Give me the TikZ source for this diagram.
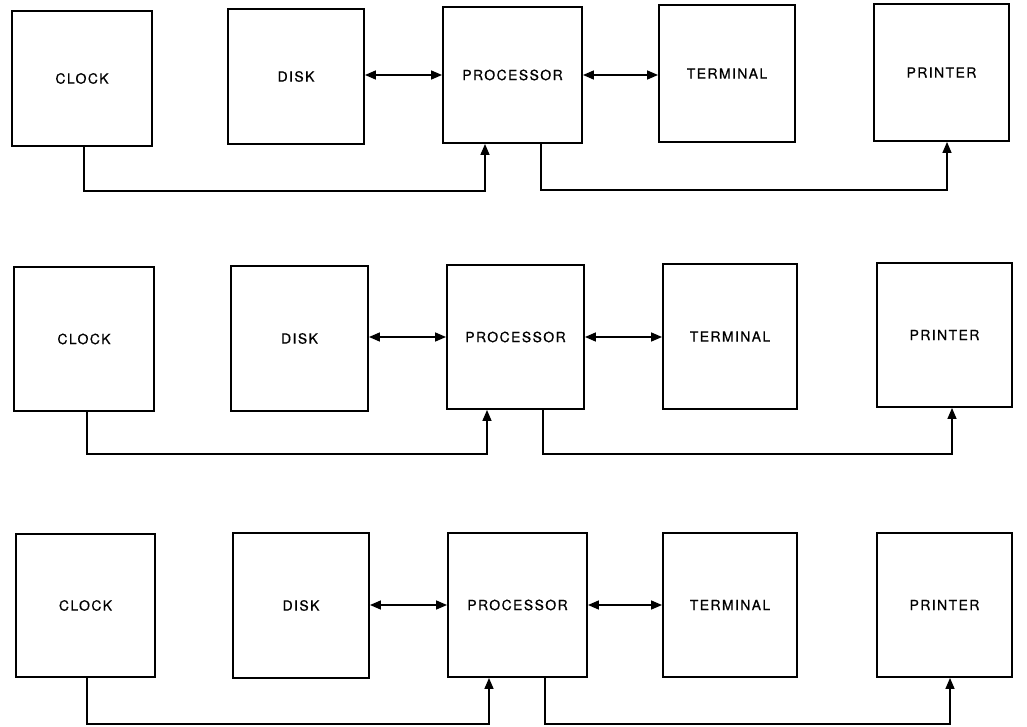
\documentclass[tikz,border=0pt]{standalone}
\usepackage{fontspec}
\usetikzlibrary{arrows.meta}
\newfontfamily\labfont[LetterSpace=10,FakeBold=0.6]{TeX Gyre Heros}
\begin{document}
\begin{tikzpicture}[x=1pt,y=-1pt,
  box/.style={draw,line width=1.9pt,inner sep=0pt,rectangle,
    font=\labfont\fontsize{14}{16}\selectfont},
  link/.style={line width=1.5pt},
  biarrow/.style={link,{Triangle[length=11pt,width=9pt]}-{Triangle[length=11pt,width=9pt]}},
  arr/.style={link,-{Triangle[length=11pt,width=9pt]}}]
\useasboundingbox (0,0) rectangle (1027,727);
% Row 1
\node[box,minimum width=140pt,minimum height=135pt] (c1) at (82,78.5) {CLOCK};
\node[box,minimum width=136pt,minimum height=135pt] (d1) at (296,76.5) {DISK};
\node[box,minimum width=139pt,minimum height=136pt] (p1) at (512.5,75) {PROCESSOR};
\node[box,minimum width=136pt,minimum height=137pt] (t1) at (727,73.5) {TERMINAL};
\node[box,minimum width=135pt,minimum height=137pt] (pr1) at (941.5,72.5) {PRINTER};
\draw[biarrow] (p1.west -| d1.east) -- (p1.west);
\draw[biarrow] (p1.east) -- (p1.east -| t1.west);
\draw[arr] ([xshift=2pt]c1.south) -- ++(0,44) -| ([xshift=-27.5pt]p1.south);
\draw[arr] ([xshift=28.5pt]p1.south) -- ++(0,46) -| ([xshift=5.5pt]pr1.south);
% Row 2
\node[box,minimum width=140pt,minimum height=144pt] (c2) at (84,339) {CLOCK};
\node[box,minimum width=137pt,minimum height=145pt] (d2) at (299.5,338.5) {DISK};
\node[box,minimum width=137pt,minimum height=144pt] (p2) at (515.5,337) {PROCESSOR};
\node[box,minimum width=134pt,minimum height=145pt] (t2) at (730,336.5) {TERMINAL};
\node[box,minimum width=135pt,minimum height=144pt] (pr2) at (944.5,335) {PRINTER};
\draw[biarrow] (p2.west -| d2.east) -- (p2.west);
\draw[biarrow] (p2.east) -- (p2.east -| t2.west);
\draw[arr] ([xshift=3pt]c2.south) -- ++(0,42) -| ([xshift=-28.5pt]p2.south);
\draw[arr] ([xshift=27.5pt]p2.south) -- ++(0,44) -| ([xshift=7.5pt]pr2.south);
% Row 3
\node[box,minimum width=139pt,minimum height=143pt] (c3) at (85.5,605.5) {CLOCK};
\node[box,minimum width=136pt,minimum height=145pt] (d3) at (301,605.5) {DISK};
\node[box,minimum width=139pt,minimum height=144pt] (p3) at (517.5,605) {PROCESSOR};
\node[box,minimum width=134pt,minimum height=144pt] (t3) at (730,605) {TERMINAL};
\node[box,minimum width=135pt,minimum height=144pt] (pr3) at (944.5,605) {PRINTER};
\draw[biarrow] (p3.west -| d3.east) -- (p3.west);
\draw[biarrow] (p3.east) -- (p3.east -| t3.west);
\draw[arr] ([xshift=1.5pt]c3.south) -- ++(0,46) -| ([xshift=-28.5pt]p3.south);
\draw[arr] ([xshift=27.5pt]p3.south) -- ++(0,46) -| ([xshift=5.5pt]pr3.south);
\end{tikzpicture}
\end{document}
